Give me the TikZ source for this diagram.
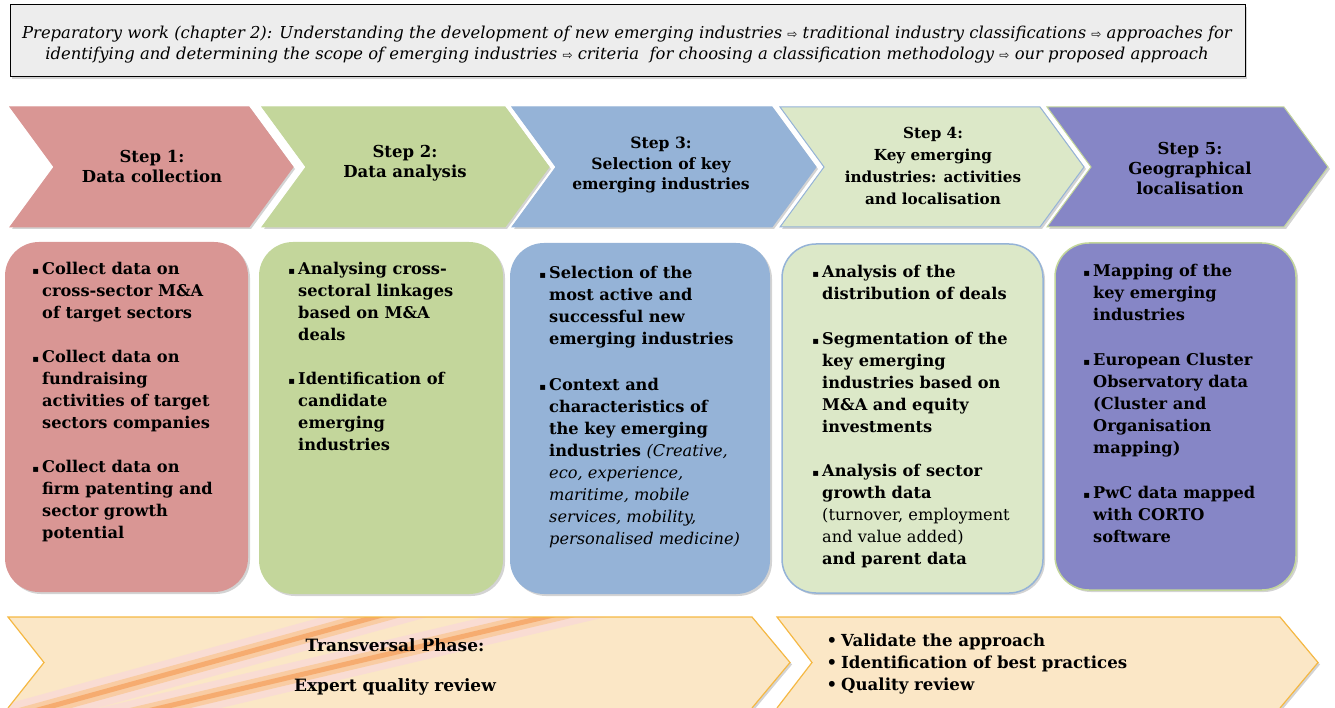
\documentclass[tikz,border=0pt]{standalone}
\usepackage{fontspec}
\setmainfont{DejaVu Serif}
\newfontfamily\symfont{DejaVu Sans}
\usetikzlibrary{shadows}
\definecolor{redS}{HTML}{D99694}
\definecolor{greenS}{HTML}{C3D69B}
\definecolor{blueS}{HTML}{95B3D7}
\definecolor{paleS}{HTML}{DCE8C8}
\definecolor{violetS}{HTML}{8686C6}
\definecolor{sandS}{HTML}{FBE7C6}
\definecolor{orangeS}{HTML}{F5B843}
\definecolor{pinkS}{HTML}{F8D6DC}
\definecolor{glowS}{HTML}{F6A96B}
\newcommand{\bul}{\llap{{\symfont\fontsize{10}{10}\selectfont ▪}\hspace{3pt}}}
\newcommand{\rnd}{\llap{•\hspace{4pt}}}
\newcommand{\arw}{{\symfont\fontsize{12}{12}\selectfont ⇨}}

\begin{document}
\begin{tikzpicture}[x=1pt,y=-1pt,
  softshadow/.style={drop shadow={opacity=0.35,shadow xshift=2pt,shadow yshift=-2pt}},
  steptext/.style={font=\bfseries\fontsize{16.5}{20}\selectfont,align=center,inner sep=0pt},
  bodytext/.style={font=\bfseries\fontsize{16.2}{22}\selectfont,align=left,anchor=north west,inner sep=0pt},
  card/.style={rounded corners=34pt,softshadow,line width=1.5pt}]
\useasboundingbox(0,0)rectangle(1335,708);
\filldraw[fill=black!7,draw=black,line width=1pt,softshadow](10,5)rectangle(1245,77);
\node[font=\itshape\fontsize{16.4}{21}\selectfont,align=center](prep)at(627,45){Preparatory work (chapter 2): Understanding the development of new emerging industries \arw\ traditional industry classifications \arw\ approaches for\\identifying and determining the scope of emerging industries \arw\ criteria\ \ for choosing a classification methodology \arw\ our proposed approach};
\foreach\l/\r/\f/\d in{10/249/redS/redS,262/505/greenS/greenS,512/772/blueS/blueS,780/1040/paleS/blueS,1047/1284/violetS/greenS}{
\path[fill=\f,draw=\d,line width=1pt,softshadow](\l,107)--(\r,107)--(\r+44,167)--(\r,227)--(\l,227)--(\l+44,167)--cycle;}
\node[steptext](step1)at(152,166){Step 1:\\Data collection};
\node[steptext](step2)at(405,163){Step 2:\\Data analysis};
\node[steptext,font=\bfseries\fontsize{15.6}{20.5}\selectfont](step3)at(661,165){Step 3:\\Selection of key\\emerging industries};
\node[steptext,font=\bfseries\fontsize{15.2}{22}\selectfont](step4)at(933,166){Step 4:\\Key emerging\\industries: activities\\and localisation};
\node[steptext](step5)at(1190,168){Step 5:\\Geographical\\localisation};
\path[card,fill=redS](5,242)rectangle(248,592);
\path[card,fill=greenS](259,242)rectangle(503,594);
\path[card,fill=blueS](510,243)rectangle(770,594);
\path[card,fill=paleS,draw=blueS](782,244)rectangle(1043,593);
\path[card,fill=violetS,draw=greenS](1055,243)rectangle(1296,590);
\node[bodytext](box1)at(42,262){\bul Collect data on\\cross-sector M\&A\\of target sectors\\[22pt]\bul Collect data on\\fundraising\\activities of target\\sectors companies\\[22pt]\bul Collect data on\\firm patenting and\\sector growth\\potential};
\node[bodytext](box2)at(298,262){\bul Analysing cross-\\sectoral linkages\\based on M\&A\\deals\\[22pt]\bul Identification of\\candidate\\emerging\\industries};
\node[bodytext](box3)at(549,266){\bul Selection of the\\most active and\\successful new\\emerging industries\\[24pt]\bul Context and\\characteristics of\\the key emerging\\industries {\mdseries\itshape(Creative,}\\{\mdseries\itshape eco, experience,}\\{\mdseries\itshape maritime, mobile}\\{\mdseries\itshape services, mobility,}\\{\mdseries\itshape personalised medicine)}};
\node[bodytext](box4)at(822,265){\bul Analysis of the\\distribution of deals\\[23pt]\bul Segmentation of the\\key emerging\\industries based on\\M\&A and equity\\investments\\[22pt]\bul Analysis of sector\\growth data\\{\mdseries(turnover, employment}\\{\mdseries and value added)}\\and parent data};
\node[bodytext](box5)at(1093,264){\bul Mapping of the\\key emerging\\industries\\[23pt]\bul European Cluster\\Observatory data\\(Cluster and\\Organisation\\mapping)\\[23pt]\bul PwC data mapped\\with CORTO\\software};
\path[fill=sandS,softshadow](8,617)--(752,617)--(790,662.5)--(752,708)--(8,708)--(44,662.5)--cycle;
\begin{scope}
\clip(8,617)--(752,617)--(790,662.5)--(752,708)--(8,708)--(44,662.5)--cycle;
\foreach\a/\b in{45/375,160/545}{
\draw[pinkS,line width=28pt,opacity=0.6]({\a-0.2*(\b-\a)},726.2)--({\b+0.2*(\b-\a)},598.8);
\draw[glowS!50!sandS,line width=14pt,opacity=0.8]({\a-0.2*(\b-\a)},726.2)--({\b+0.2*(\b-\a)},598.8);
\draw[glowS,line width=5pt,opacity=0.9]({\a-0.2*(\b-\a)},726.2)--({\b+0.2*(\b-\a)},598.8);}
\end{scope}
\draw[orangeS,line width=1.2pt](8,708)--(44,662.5)--(8,617)--(752,617)--(790,662.5)--(752,708);
\filldraw[fill=sandS,draw=orangeS,line width=1.2pt,softshadow](777,708)--(812,662.5)--(777,617)--(1280,617)--(1318,662.5)--(1280,708);
\node[font=\bfseries\fontsize{17}{20}\selectfont,align=center](trans)at(395,667){Transversal Phase:\\[20pt]Expert quality review};
\node[bodytext,font=\bfseries\fontsize{16.6}{22}\selectfont](valid)at(841,634){\rnd Validate the approach\\\rnd Identification of best practices\\\rnd Quality review};
\end{tikzpicture}
\end{document}
